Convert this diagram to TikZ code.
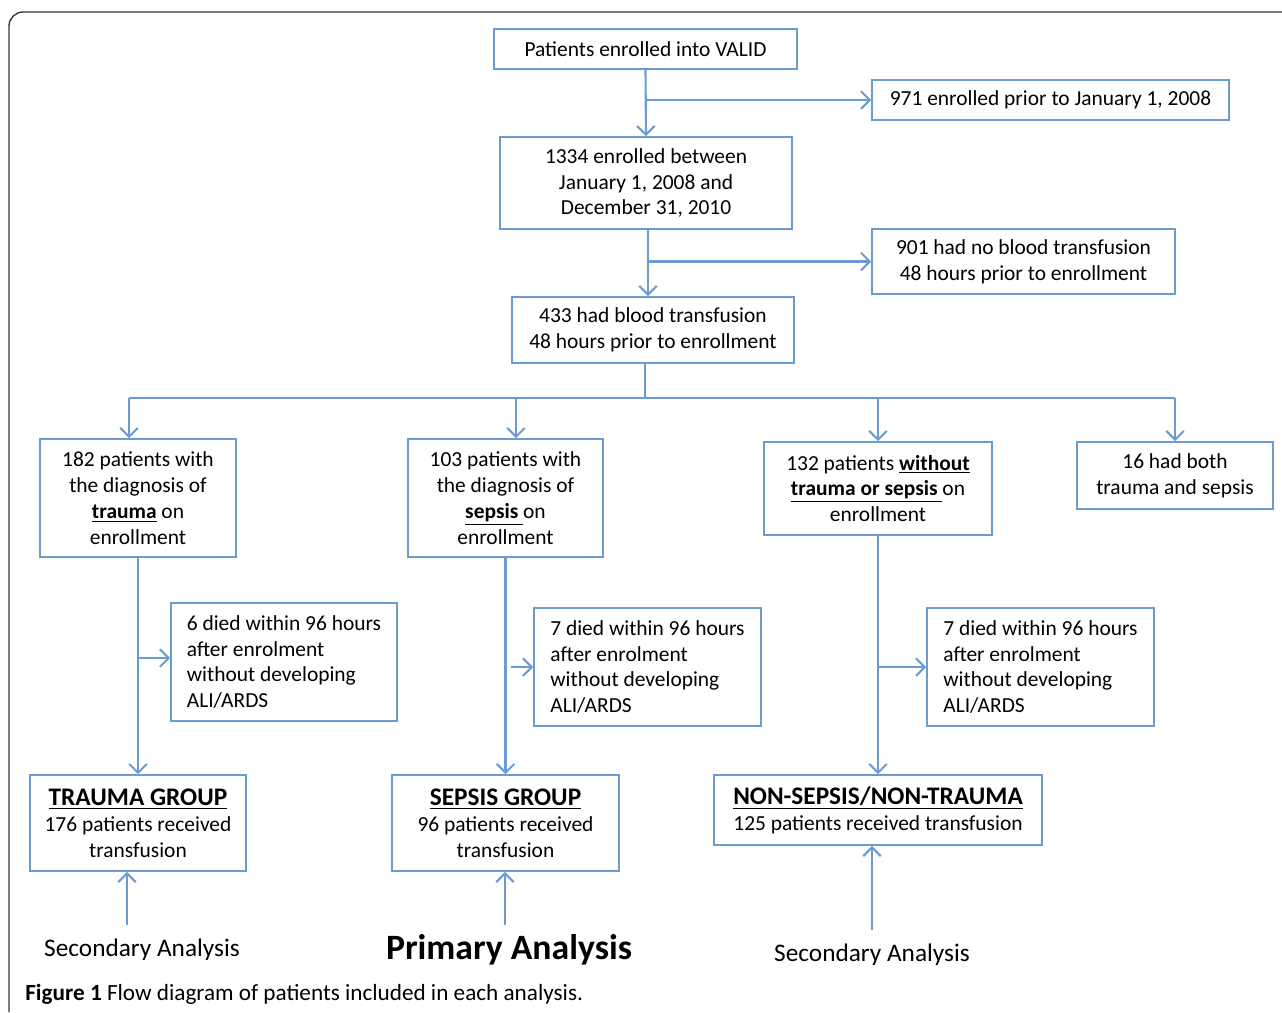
\documentclass[tikz,border=0pt]{standalone}
\usepackage{fontspec}
\setmainfont{Carlito}
\usetikzlibrary{arrows.meta}
\definecolor{flowblue}{RGB}{108,155,210}
\definecolor{framegray}{RGB}{55,55,55}
\tikzset{
  box/.style={draw=flowblue, line width=0.9pt, align=center, inner sep=0pt,
    font=\fontsize{12.2}{14.7}\selectfont},
  size/.style 2 args={minimum width=#1cm, minimum height=#2cm},
  link/.style={flowblue, line width=1.2pt},
  arr/.style={link, -{Straight Barb[length=5pt,width=10pt]}},
  label/.style={inner sep=0pt, font=\fontsize{14.4}{16}\selectfont},
}
\newcommand{\grouphead}[1]{{\fontsize{14.4}{16}\selectfont\underline{\textbf{#1}}}}
\begin{document}
\begin{tikzpicture}[x=0.02cm,y=-0.02cm]
\useasboundingbox (0,0) rectangle (1282,1012);
% frame
\draw[framegray, line width=0.8pt, rounded corners=8pt] (9,1012) -- (9,12) -- (1282,12);

% top of the flow
\node[box, size={6.06}{0.8}] (valid) at (645.5,49) {Patients enrolled into VALID};
\node[box, size={7.14}{0.8}] (b971) at (1050.5,100) {971 enrolled prior to January 1, 2008};
\node[box, size={5.84}{1.84}] (b1334) at (646,183) {1334 enrolled between\\January 1, 2008 and\\December 31, 2010};
\node[box, size={6.06}{1.3}] (b901) at (1023.5,261.5) {901 had no blood transfusion\\48 hours prior to enrollment};
\node[box, size={5.64}{1.32}] (b433) at (653,330) {433 had blood transfusion\\48 hours prior to enrollment};

% diagnosis
\node[box, size={3.92}{2.36}] (trauma) at (138,498) {182 patients with\\the diagnosis of\\\underline{\textbf{trauma}} on\\enrollment};
\node[box, size={3.9}{2.36}] (sepsis) at (505.5,498) {103 patients with\\the diagnosis of\\\underline{\textbf{sepsis }}on\\enrollment};
\node[box, size={4.56}{1.86}] (nonts) at (878,488.5) {132 patients \underline{\textbf{without}}\\\underline{\textbf{trauma or sepsis }}on\\enrollment};
\node[box, size={3.92}{1.34}] (both) at (1175,475.5) {16 had both\\trauma and sepsis};

% deaths
\node[box, size={4.52}{2.36}, align=left] (d6) at (284,662) {6 died within 96 hours\\after enrolment\\without developing\\ALI/ARDS};
\node[box, size={4.54}{2.36}, align=left] (d7a) at (647.5,667) {7 died within 96 hours\\after enrolment\\without developing\\ALI/ARDS};
\node[box, size={4.54}{2.36}, align=left] (d7b) at (1040.5,667) {7 died within 96 hours\\after enrolment\\without developing\\ALI/ARDS};

% groups
\node[box, size={4.32}{1.92}] (tg) at (138,823) {\grouphead{TRAUMA GROUP}\\176 patients received\\transfusion};
\node[box, size={4.54}{1.92}] (sg) at (505.5,823) {\grouphead{SEPSIS GROUP}\\96 patients received\\transfusion};
\node[box, size={6.56}{1.4}] (ng) at (878,810) {\grouphead{NON-SEPSIS/NON-TRAUMA}\\125 patients received transfusion};

% analyses
\node[label] (sec1) at (142,950) {Secondary Analysis};
\node[label, font=\fontsize{20.3}{22}\selectfont\bfseries] (prim) at (509,950) {Primary Analysis};
\node[label] (sec2) at (872,955) {Secondary Analysis};
\node[inner sep=0pt, anchor=west, font=\fontsize{13.2}{15}\selectfont] (cap) at (25,994) {\textbf{Figure 1} Flow diagram of patients included in each analysis.};

% connectors
\draw[arr] (valid.south) -- (b1334.north);
\coordinate (j971) at (645,100);
\draw[arr] (j971) -- (b971.west);
\coordinate (j433) at (648,229);
\draw[arr] (j433) -- (j433 |- b433.north);
\draw[arr] (j433 |- b901.west) -- (b901.west);
\coordinate (split) at (645,398);
\draw[link] (b433.south -| split) -- (split);
\foreach \x/\t in {129/trauma,516/sepsis,878/nonts,1175/both}{
  \coordinate (d\t) at (\x,398);
  \draw[arr] (d\t) -- (d\t |- \t.north);
}
\draw[link] (dtrauma) -- (dboth);

\draw[arr] (trauma.south) -- (tg.north);
\draw[arr] (sepsis.south) -- (sg.north);
\draw[arr] (nonts.south) -- (ng.north);
\coordinate (jt) at (138,658);
\draw[arr] (jt) -- (jt -| d6.west);
\coordinate (js) at (511,667);
\draw[arr] (js) -- (js -| d7a.west);
\coordinate (jn) at (878,667);
\draw[arr] (jn) -- (jn -| d7b.west);

\coordinate (u1) at (127,925);
\draw[arr] (u1) -- (u1 |- tg.south);
\coordinate (u2) at (505,925);
\draw[arr] (u2) -- (u2 |- sg.south);
\coordinate (u3) at (872,930);
\draw[arr] (u3) -- (u3 |- ng.south);
\end{tikzpicture}
\end{document}
